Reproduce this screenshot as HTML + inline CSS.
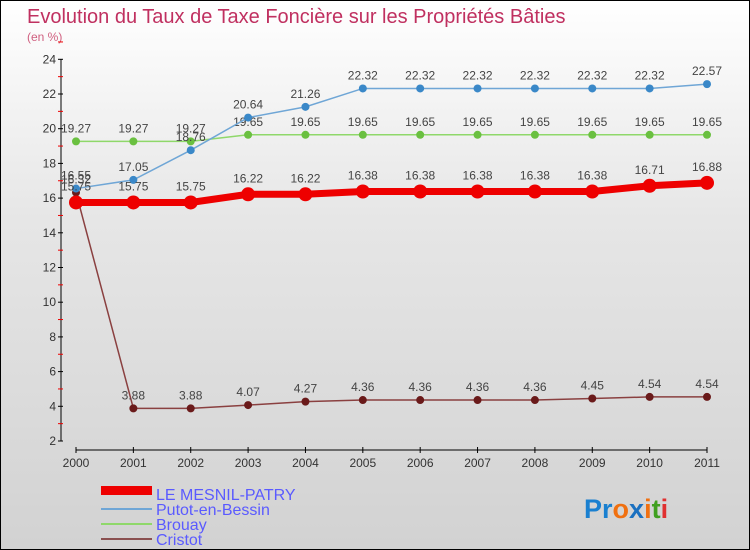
<!DOCTYPE html>
<html><head><meta charset="utf-8"><style>
body{margin:0;}
#c{width:750px;height:550px;position:relative;box-sizing:border-box;border:1px solid #000;background:linear-gradient(#fff 0%,#e6e6e6 40%,#d2d2d2 100%);font-family:"Liberation Sans",sans-serif;overflow:hidden}
</style></head><body>
<div id="c">
<svg id="s" width="750" height="550" style="position:absolute;left:0;top:0">
<text x="26" y="22" font-size="20" fill="#c03060">Evolution du Taux de Taxe Foncière sur les Propriétés Bâties</text>
<text x="26" y="40" font-size="12" fill="#d06080">(en %)</text>
<g id="ax"></g><g id="marks"></g>
<g>
<rect x="100" y="485" width="51" height="9" fill="#e00"/>
<text x="155" y="499" font-size="16" fill="#5a5aff">LE MESNIL-PATRY</text>
<rect x="100" y="507" width="51" height="2" fill="#6fa6d6"/>
<text x="155" y="514" font-size="16" fill="#5a5aff">Putot-en-Bessin</text>
<rect x="100" y="522" width="51" height="2" fill="#8fd86a"/>
<text x="155" y="529" font-size="16" fill="#5a5aff">Brouay</text>
<rect x="100" y="537" width="51" height="2" fill="#8a5050"/>
<text x="155" y="544" font-size="16" fill="#5a5aff">Cristot</text>
</g>
<text x="583" y="517" font-size="27" font-weight="bold"><tspan fill="#1a80d0">Pr</tspan><tspan fill="#f07010">o</tspan><tspan fill="#1a70c0">x</tspan><tspan fill="#f07010">i</tspan><tspan fill="#40a020">t</tspan><tspan fill="#e03030">i</tspan></text>
</svg>
</div>
<script>
const years=[2000,2001,2002,2003,2004,2005,2006,2007,2008,2009,2010,2011];
const mesnil=[15.75,15.75,15.75,16.22,16.22,16.38,16.38,16.38,16.38,16.38,16.71,16.88];
const putot=[16.55,17.05,18.76,20.64,21.26,22.32,22.32,22.32,22.32,22.32,22.32,22.57];
const brouay=[19.27,19.27,19.27,19.65,19.65,19.65,19.65,19.65,19.65,19.65,19.65,19.65];
const cristot=[16.32,3.88,3.88,4.07,4.27,4.36,4.36,4.36,4.36,4.45,4.54,4.54];
const yTicks=[2,4,6,8,10,12,14,16,18,20,22,24];
const NS="http://www.w3.org/2000/svg";
const X=i=>75+i*(706-75)/11;
const Y=v=>440-(v-2)*17.35;
function mk(t,a,p){const e=document.createElementNS(NS,t);for(const k in a)e.setAttribute(k,a[k]);p.appendChild(e);return e;}
const ax=document.getElementById('ax'),mg=document.getElementById('marks');
const yl=mk('line',{x1:60,y1:Y(24),x2:60,y2:440,stroke:'#000'},ax);


yTicks.forEach(v=>{
 mk('line',{x1:57,y1:Y(v),x2:62,y2:Y(v),stroke:'#000'},ax);
 mk('line',{x1:57,y1:Y(v+1),x2:62,y2:Y(v+1),stroke:'#e00'},ax);
 const t=mk('text',{x:55,y:Y(v)+4,'font-size':12,fill:'#333','text-anchor':'end'},ax);t.textContent=v;
 
 
});
const xl=mk('line',{x1:75,y1:449,x2:706,y2:449,stroke:'#000'},ax);


years.forEach((y,i)=>{
 mk('line',{x1:X(i),y1:446,x2:X(i),y2:452,stroke:'#000'},ax);
 const t=mk('text',{x:X(i),y:466,'font-size':12,fill:'#333','text-anchor':'middle'},ax);t.textContent=y;
 
 
});
function series(d,col,dot,w,r,name){
 const g=mk('g',{},mg);
 
 
 mk('polyline',{points:d.map((v,i)=>X(i)+','+Y(v)).join(' '),fill:'none',stroke:col,'stroke-width':w},g);
 d.forEach((v,i)=>{
  const c=mk('circle',{cx:X(i),cy:Y(v),r:r,fill:dot},g);
  
  
  const t=mk('text',{x:X(i),y:Y(v)-r-5,'font-size':12,fill:'#444','text-anchor':'middle'},g);t.textContent=v;
  
  
 });
}
series(cristot,'#8a4040','#6a1a1a',1.5,4,'cristot');
series(brouay,'#8fd86a','#6ac040',1.5,4,'brouay');
series(putot,'#6fa6d6','#3a88c8',1.5,4,'putot');
series(mesnil,'#e00','#e00',7,7,'mesnil');
</script>
</body></html>
